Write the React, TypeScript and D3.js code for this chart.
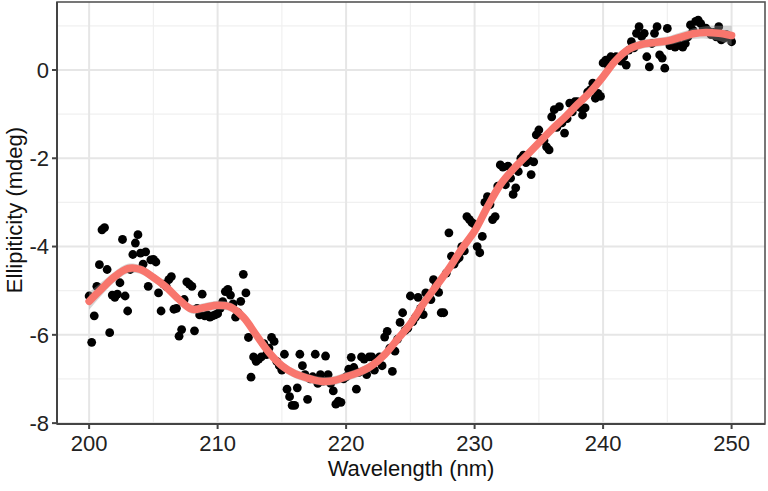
import React from "react";
import * as d3 from "d3";

// Measured ellipticity, one value every 0.2 nm from 200 to 250 nm
const wavelengthStart = 200;
const wavelengthStep = 0.2;
const ellipticity: number[] = [
  -5.12, -6.17, -5.57, -4.9, -4.41,
  -3.62, -3.57, -4.52, -5.95, -5.1,
  -5.15, -5.08, -4.82, -3.84, -5.12,
  -5.46, -4.52, -4.18, -3.92, -3.73,
  -4.15, -4.4, -4.12, -4.9, -4.3,
  -4.29, -4.35, -5.05, -5.46, -4.85,
  -4.9, -4.75, -4.68, -5.42, -5.4,
  -6.03, -5.88, -5.2, -4.8, -4.85,
  -4.9, -5.91, -5.4, -5.55, -5.08,
  -5.57, -5.55, -5.6, -5.57, -5.55,
  -5.52, -5.4, -5.25, -5.02, -4.97,
  -5.1, -5.3, -5.6, -5.5, -5.24,
  -4.63, -5.05, -6.06, -6.96, -6.5,
  -6.6, -6.55, -6.5, -6.2, -6.45,
  -6.3, -6.06, -6.15, -6.6, -6.7,
  -6.8, -6.44, -7.23, -7.4, -7.6,
  -7.6, -7.2, -6.44, -6.7, -6.9,
  -7.46, -7.0, -6.95, -6.44, -7.1,
  -6.9, -7.05, -6.48, -6.9, -7.1,
  -7.27, -7.57, -7.5, -7.53, -7.0,
  -6.95, -6.78, -6.51, -6.74, -7.23,
  -6.85, -6.5, -6.55, -6.9, -6.5,
  -6.5, -6.8, -6.6, -6.5, -6.7,
  -6.05, -5.92, -6.3, -6.83, -6.37,
  -6.1, -5.72, -5.5, -5.9, -5.85,
  -5.12, -5.7, -5.6, -5.15, -5.4,
  -5.54, -5.05, -5.1, -5.2, -4.75,
  -4.9, -5.04, -5.5, -5.5, -4.6,
  -3.69, -4.22, -4.4, -4.3, -4.25,
  -4.0, -4.1, -3.32, -3.39, -3.46,
  -3.5, -4.0, -4.14, -3.77, -3.0,
  -2.87, -3.05, -3.39, -3.32, -2.63,
  -2.15, -2.2, -2.6, -2.18, -2.45,
  -2.82, -2.67, -2.3, -2.0, -1.93,
  -2.1, -2.05, -2.37, -2.08, -1.47,
  -1.36, -1.55, -1.6, -1.74, -1.81,
  -1.06, -0.9, -1.3, -0.83, -1.2,
  -1.43, -1.1, -0.75, -0.95, -0.72,
  -0.72, -0.85, -1.02, -0.86, -0.5,
  -0.45, -0.3, -0.64, -0.53, -0.6,
  0.16, 0.22, 0.1, 0.3, 0.28,
  0.3, 0.25, 0.2, 0.3, 0.11,
  0.45, 0.64, 0.5, 0.83, 0.98,
  0.76, 0.83, 0.3, 0.07, 0.6,
  0.83, 0.98, 0.34, 0.27, 0.04,
  0.94, 0.55, 0.6, 0.52, 0.58,
  0.55, 0.52, 0.6, 0.75, 1.02,
  0.9, 1.1, 1.13, 1.05, 0.94,
  0.95, 0.88, 0.8, 0.85, 0.75,
  0.98, 0.68, 0.72, 0.8, 0.75,
  0.64,
];

// Smoothed fit and its standard-error half width
const smoothX: number[] = [
  200, 201, 202, 203, 204, 205, 206, 207, 208, 209, 210, 211, 212, 213, 214, 215, 216,
  217, 218, 219, 220, 221, 222, 223, 224, 225, 226, 227, 228, 229, 230, 231, 232, 233,
  234, 235, 236, 237, 238, 239, 240, 241, 242, 243, 244, 245, 246, 247, 248, 249, 250,
];
const smoothY: number[] = [
  -5.24, -4.95, -4.68, -4.5, -4.52, -4.7, -4.92, -5.2, -5.42, -5.38, -5.33, -5.37, -5.6,
  -6.0, -6.4, -6.7, -6.88, -6.98, -7.05, -7.04, -6.95, -6.85, -6.7, -6.45, -6.1, -5.75,
  -5.3, -4.9, -4.5, -4.05, -3.65, -3.1, -2.6, -2.25, -1.95, -1.65, -1.35, -1.08, -0.78,
  -0.5, -0.15, 0.22, 0.47, 0.58, 0.62, 0.66, 0.74, 0.82, 0.85, 0.83, 0.78,
];
const smoothSe: number[] = [
  0.2, 0.15, 0.12, 0.11, 0.1, 0.1, 0.1, 0.1, 0.1, 0.1, 0.1, 0.1, 0.1, 0.1, 0.1, 0.1, 0.1,
  0.1, 0.1, 0.1, 0.1, 0.1, 0.1, 0.1, 0.1, 0.1, 0.1, 0.1, 0.1, 0.1, 0.1, 0.1, 0.1, 0.1,
  0.1, 0.1, 0.1, 0.1, 0.1, 0.1, 0.1, 0.1, 0.1, 0.1, 0.1, 0.1, 0.11, 0.12, 0.14, 0.17, 0.22,
];

const xTicks = [200, 210, 220, 230, 240, 250];
const xMinor = [205, 215, 225, 235, 245];
const yTicks = [-8, -6, -4, -2, 0];
const yMinor = [-7, -5, -3, -1, 1];

const xTitle = "Wavelength (nm)";
const yTitle = "Ellipiticity (mdeg)";

const W = 768;
const H = 491;
const panel = { left: 57, right: 765, top: 2, bottom: 424 };
const FONT = "'Liberation Sans', Arial, sans-serif";

export default function App() {
  const x = d3.scaleLinear().domain([197.5, 252.6]).range([panel.left, panel.right]);
  const y = d3.scaleLinear().domain([-8.02, 1.54]).range([panel.bottom, panel.top]);

  const pts = ellipticity.map((v, i) => ({ wl: wavelengthStart + i * wavelengthStep, v }));
  const fit = smoothX.map((wl, i) => ({ wl, v: smoothY[i], se: smoothSe[i] }));

  const band = d3
    .area<{ wl: number; v: number; se: number }>()
    .x((d) => x(d.wl))
    .y0((d) => y(d.v - d.se))
    .y1((d) => y(d.v + d.se))
    .curve(d3.curveCatmullRom);
  const line = d3
    .line<{ wl: number; v: number; se: number }>()
    .x((d) => x(d.wl))
    .y((d) => y(d.v))
    .curve(d3.curveCatmullRom);

  return (
    <svg width={W} height={H} style={{ position: "absolute", left: 0, top: 0, background: "#fff" }}>
      <defs>
        <clipPath id="pclip">
          <rect x={panel.left} y={panel.top} width={panel.right - panel.left} height={panel.bottom - panel.top} />
        </clipPath>
      </defs>
      <rect x={0} y={0} width={W} height={H} fill="#fff" />
      {/* grid */}
      <g>
        {xMinor.map((t) => (
          <line key={"xm" + t} x1={x(t)} x2={x(t)} y1={panel.top} y2={panel.bottom} stroke="#f0f0f0" strokeWidth={1.2} />
        ))}
        {yMinor.map((t) => (
          <line key={"ym" + t} x1={panel.left} x2={panel.right} y1={y(t)} y2={y(t)} stroke="#f0f0f0" strokeWidth={1.2} />
        ))}
        {xTicks.map((t) => (
          <line key={"xg" + t} x1={x(t)} x2={x(t)} y1={panel.top} y2={panel.bottom} stroke="#e6e6e6" strokeWidth={2} />
        ))}
        {yTicks.map((t) => (
          <line key={"yg" + t} x1={panel.left} x2={panel.right} y1={y(t)} y2={y(t)} stroke="#e6e6e6" strokeWidth={2} />
        ))}
      </g>
      <g clipPath="url(#pclip)">
        {pts.map((p, i) => (
          <circle key={i} cx={x(p.wl)} cy={y(p.v)} r={4.4} fill="#000" />
        ))}
        <path d={band(fit) || ""} fill="#999999" fillOpacity={0.4} />
        <path d={line(fit) || ""} fill="none" stroke="#F8766D" strokeWidth={7.5} strokeLinecap="round" />
      </g>
      {/* panel border */}
      <rect
        x={panel.left}
        y={panel.top}
        width={panel.right - panel.left}
        height={panel.bottom - panel.top}
        fill="none"
        stroke="#555"
        strokeWidth={1.6}
      />
      <line x1={panel.left} x2={panel.left} y1={panel.top} y2={panel.bottom} stroke="#444" strokeWidth={2} />
      <line x1={panel.left} x2={panel.right} y1={panel.bottom} y2={panel.bottom} stroke="#444" strokeWidth={2} />
      {/* ticks */}
      {xTicks.map((t) => (
        <g key={"xt" + t}>
          <line x1={x(t)} x2={x(t)} y1={panel.bottom} y2={panel.bottom + 5} stroke="#444" strokeWidth={2} />
          <text x={x(t)} y={451} textAnchor="middle" fontFamily={FONT} fontSize={22} fill="#222">
            {t}
          </text>
        </g>
      ))}
      {yTicks.map((t) => (
        <g key={"yt" + t}>
          <line x1={panel.left - 5} x2={panel.left} y1={y(t)} y2={y(t)} stroke="#444" strokeWidth={2} />
          <text x={49} y={y(t)} dy="0.36em" textAnchor="end" fontFamily={FONT} fontSize={22} fill="#222">
            {t}
          </text>
        </g>
      ))}
      <text x={(panel.left + panel.right) / 2} y={476} textAnchor="middle" fontFamily={FONT} fontSize={22} fill="#111">
        {xTitle}
      </text>
      <text
        transform={`translate(22,${(panel.top + panel.bottom) / 2 - 3}) rotate(-90)`}
        textAnchor="middle"
        fontFamily={FONT}
        fontSize={22}
        fill="#111"
      >
        {yTitle}
      </text>
    </svg>
  );
}
